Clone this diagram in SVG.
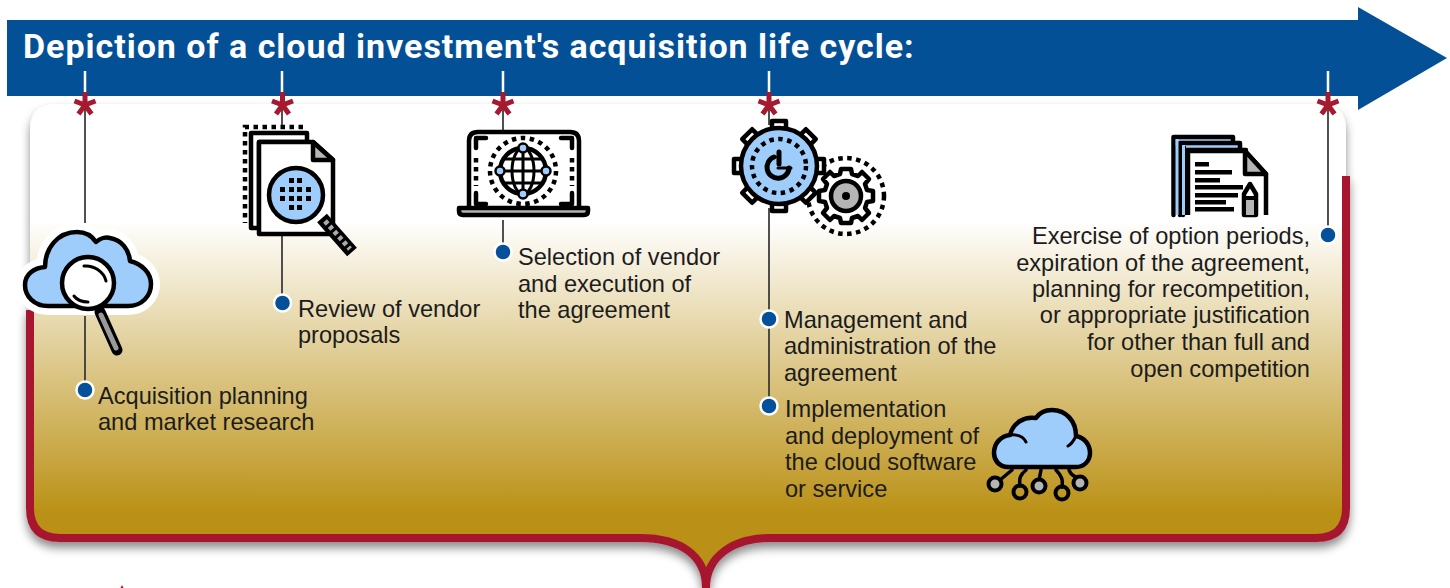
<svg xmlns="http://www.w3.org/2000/svg" xmlns:xlink="http://www.w3.org/1999/xlink" width="1450" height="588" viewBox="0 0 1450 588">
<style>
.t{font-family:"Liberation Sans",Arial,sans-serif;font-size:23.6px;fill:#1c1c1c}
.e{text-anchor:end}
.title{font-family:Roboto,"Liberation Sans",sans-serif;font-weight:700;font-size:34px;letter-spacing:0.98px;fill:#fff}
.tick{stroke:#fff;stroke-width:2.5;fill:none}
.lead{stroke:#333;stroke-width:1.7;fill:none}
.k{stroke:#000;stroke-width:4.5;fill:none;stroke-linejoin:round;stroke-linecap:round}
.kb{stroke:#000;stroke-width:4.5;fill:#9fcdfb;stroke-linejoin:round;stroke-linecap:round}
.kw{stroke:#000;stroke-width:4.5;fill:#fff;stroke-linejoin:round}
.kg{stroke:#000;stroke-width:4.5;fill:#b5b5b5;stroke-linejoin:round}
.dot{stroke:#000;stroke-width:4.5;fill:none;stroke-dasharray:4.500 4.500}
.bar{fill:#000}
.dotm{fill:#04509a;stroke:#fff;stroke-width:2.5}
</style>
<defs>
<linearGradient id="g" x1="0" y1="104" x2="0" y2="588" gradientUnits="userSpaceOnUse">
<stop offset="0" stop-color="#fff"/><stop offset="0.24" stop-color="#fff"/><stop offset="0.85" stop-color="#ba9014"/><stop offset="1" stop-color="#ba9014"/>
</linearGradient>
<filter id="s" x="-5%" y="-5%" width="110%" height="115%"><feDropShadow dx="0" dy="6" stdDeviation="5" flood-color="#000" flood-opacity="0.45"/></filter>
<g id="star" stroke="#a6192e" stroke-width="5" fill="none"><path d="M0,-13V0M0,0L-10.500,-4M0,0L10.500,-4M0,0L-6.500,9M0,0L6.500,9"/></g>
<path id="tooth" class="kw" d="M-7,-37V-45H7V-37Z"/>
</defs>

<g id="panel" filter="url(#s)">
<path fill="url(#g)" d="M30,130Q30,104 56,104H1320Q1346,104 1346,130V508Q1346,538 1316,538H770C735,538 706,555 706,588C706,555 680,538 640,538H60Q30,538 30,508Z"/>
<path fill="none" stroke="#a6192e" stroke-width="8" d="M30,310V508Q30,538 60,538H640C680,538 706,555 706,588C706,555 735,538 770,538H1316Q1346,538 1346,508V176"/>
</g>

<g id="banner">
<path fill="#045096" d="M7,20H1358V7L1447,58L1358,110V96H7Z"/>
<text class="title" x="23" y="58">Depiction of a cloud investment's acquisition life cycle:</text>
</g>

<g id="connectors">
<path class="tick" d="M85,71V95M282,71V95M503,71V95M769,71V95M1328,71V95"/>
<path class="lead" d="M85,105V223M85,316V385M282,105V127M282,236V298M503,105V131M503,220V247M769,105V125M769,208V400M1328,105V230"/>
</g>

<g id="markers">
<use xlink:href="#star" x="85" y="105"/><use xlink:href="#star" x="282.500" y="105"/><use xlink:href="#star" x="503" y="105"/><use xlink:href="#star" x="769" y="105"/><use xlink:href="#star" x="1328" y="105"/>
<path d="M120.500,588L122,585L123.500,588Z" fill="#a6192e"/>
</g>

<g id="node-planning">
<path fill="#fff" stroke="#fff" stroke-width="18" stroke-linejoin="round" d="M48,306C34,306 25,296 25,285C25,274 34,268 45,267C45,248 58,232 77,232C85,232 92,236 96,242C100,238 106,237 110,238C122,240 129,250 130,261C142,264 151,273 151,284C151,296 142,306 128,306Z"/>
<path class="kb" d="M48,306C34,306 25,296 25,285C25,274 34,268 45,267C45,248 58,232 77,232C85,232 92,236 96,242C100,238 106,237 110,238C122,240 129,250 130,261C142,264 151,273 151,284C151,296 142,306 128,306Z"/>
<path d="M100,312L117,350" stroke="#000" stroke-width="11" stroke-linecap="round"/>
<path d="M101,315L116,348" stroke="#9a9a9a" stroke-width="5" stroke-linecap="round"/>
<circle class="kw" cx="88" cy="283" r="26"/>
<path class="k" d="M84,266C94,265 104,272 106,281M74,296C77,300 81,302 88,302" style="stroke-width:3"/>
<circle class="dotm" cx="85" cy="390" r="8.500"/>
<text class="t" x="98" y="404">Acquisition planning</text>
<text class="t" x="98" y="430">and market research</text>
</g>

<g id="node-review">
<path class="dot" d="M303,127H245V223"/>
<path class="kw" d="M251,133H307V142H259V228H251Z"/>
<path class="kw" d="M259,142H313L333,160V234H259Z"/>
<path class="kg" d="M313,142L333,160H313Z"/>
<path d="M322,218L352,252" stroke="#000" stroke-width="13"/>
<path d="M325,221L350,249" stroke="#aaa" stroke-width="5" stroke-dasharray="4 3"/>
<circle class="kb" cx="296" cy="195" r="27"/>
<path class="bar" d="M289,178h5v5h-5zM297,178h5v5h-5zM280,187h5v5h-5zM289,187h5v5h-5zM297,187h5v5h-5zM306,187h5v5h-5zM280,196h5v5h-5zM289,196h5v5h-5zM297,196h5v5h-5zM306,196h5v5h-5zM289,205h5v5h-5zM297,205h5v5h-5z"/>
<circle class="dotm" cx="282.500" cy="303" r="8.500"/>
<text class="t" x="298" y="317">Review of vendor</text>
<text class="t" x="298" y="343">proposals</text>
</g>

<g id="node-selection">
<path class="kw" d="M469,207V141Q469,132 478,132H570Q579,132 579,141V207"/>
<path class="k" d="M486,138H476V148M561,138H572V148M486,204H476V193M561,204H572V193"/>
<path class="dot" d="M476,158V186M572,158V186"/>
<path class="kg" d="M459,208H588V211Q588,215 584,215H463Q459,215 459,211Z"/>
<circle class="dot" cx="523" cy="171" r="33"/>
<circle class="k" cx="523" cy="171" r="23"/>
<ellipse class="k" cx="523" cy="171" rx="11" ry="23" style="stroke-width:3"/>
<path class="k" style="stroke-width:3" d="M523,148V194M500,171H546M504,159H542M504,183H542"/>
<circle class="kb" cx="523" cy="148" r="4.500" style="stroke-width:2.500"/><circle class="kb" cx="523" cy="194" r="4.500" style="stroke-width:2.500"/><circle class="kb" cx="500" cy="171" r="4.500" style="stroke-width:2.500"/><circle class="kb" cx="546" cy="171" r="4.500" style="stroke-width:2.500"/>
<circle class="dotm" cx="503" cy="252" r="8.500"/>
<text class="t" x="518" y="265">Selection of vendor</text>
<text class="t" x="518" y="292">and execution of</text>
<text class="t" x="518" y="318">the agreement</text>
</g>

<g id="node-management">
<g transform="translate(846 196)">
<circle class="dot" r="38"/>
<path class="kw" d="M-5,-27H5L6,-22L12,-20L16,-24L23,-17L19,-12L21,-6L27,-5V5L21,6L19,12L23,17L16,24L12,20L6,22L5,27H-5L-6,22L-12,20L-16,24L-23,17L-19,12L-21,6L-27,5V-5L-21,-6L-19,-12L-23,-17L-16,-24L-12,-20L-6,-22Z"/>
<circle class="kg" r="15"/>
<circle r="4" fill="#000"/>
</g>
<g transform="translate(779 166)">
<use xlink:href="#tooth"/><use xlink:href="#tooth" transform="rotate(45)"/><use xlink:href="#tooth" transform="rotate(90)"/><use xlink:href="#tooth" transform="rotate(135)"/><use xlink:href="#tooth" transform="rotate(180)"/><use xlink:href="#tooth" transform="rotate(225)"/><use xlink:href="#tooth" transform="rotate(270)"/><use xlink:href="#tooth" transform="rotate(315)"/>
<circle class="kb" r="38"/>
<circle class="dot" r="27"/>
<path class="k" style="stroke-width:5" d="M0,-14V-2M10,2A11,11 0 1 1 -5,-9"/>
<path class="k" style="stroke-width:3" d="M-1,2H12"/>
</g>
<circle class="dotm" cx="769" cy="319" r="8.500"/>
<text class="t" x="784" y="328">Management and</text>
<text class="t" x="784" y="354">administration of the</text>
<text class="t" x="784" y="381">agreement</text>
</g>

<g id="node-implementation">
<circle class="dotm" cx="769" cy="406" r="8.500"/>
<text class="t" x="785" y="417">Implementation</text>
<text class="t" x="785" y="444">and deployment of</text>
<text class="t" x="785" y="470">the cloud software</text>
<text class="t" x="785" y="497">or service</text>
<path class="kb" d="M1008,467C999,467 994,460 994,453C994,443 1001,436 1010,435C1013,423 1024,416 1036,418C1040,412 1046,410 1052,410C1066,410 1076,421 1076,436C1085,438 1090,445 1090,453C1090,461 1084,467 1076,467Z"/>
<path class="k" d="M1010,435C1020,434 1024,438 1026,442M1076,436C1074,440 1072,444 1068,446" style="stroke-width:3"/>
<path class="k" d="M1012,470L1000,480M1026,470C1020,475 1019,478 1020,486M1041,470L1039,480M1056,470C1062,476 1063,480 1062,487M1069,470C1071,475 1075,477 1078,478" style="stroke-width:3.500"/>
<circle class="kg" cx="995" cy="484" r="6.500" style="stroke-width:4"/>
<circle cx="1020" cy="492" r="6.500" fill="none" stroke="#000" stroke-width="4"/>
<circle class="kg" cx="1039" cy="486" r="6.500" style="stroke-width:4"/>
<circle cx="1062" cy="493" r="6.500" fill="none" stroke="#000" stroke-width="4"/>
<circle class="kg" cx="1080" cy="483" r="6.500" style="stroke-width:4"/>
</g>

<g id="node-exercise">
<path class="kb" d="M1173.500,215V137H1233V145M1173.500,215"/>
<path class="kb" d="M1180,215V143H1240V150"/>
<path class="kb" d="M1183,215V150H1246"/>
<path fill="#000" d="M1172,146h14v69h-14z"/>
<path fill="#9fcdfb" d="M1175.500,139h3v76h-3zM1182,145h3v70h-3z"/>
<path class="kw" d="M1188,215V151H1245L1266,174V215" style="stroke-linejoin:round"/>
<path class="kg" d="M1245,151L1266,174H1245Z"/>
<path class="bar" d="M1195,162h14v4.500h-14zM1195,170h37v4.500h-37zM1195,178h25v4.500h-25zM1195,185h48v4.500h-48zM1195,193h43v4.500h-43zM1195,200h31v4.500h-31zM1195,207h39v4.500h-39z"/>
<path class="kw" style="stroke-width:4.500" d="M1244,215V194L1250,184L1256,194V215Z"/>
<path fill="#b5b5b5" d="M1246,200h8v15h-8z"/>
<path d="M1243,198H1257" stroke="#000" stroke-width="4"/>
<circle class="dotm" cx="1328" cy="235" r="8.500"/>
<text class="t e" x="1310" y="244">Exercise of option periods,</text>
<text class="t e" x="1310" y="271">expiration of the agreement,</text>
<text class="t e" x="1310" y="297">planning for recompetition,</text>
<text class="t e" x="1310" y="323">or appropriate justification</text>
<text class="t e" x="1310" y="350">for other than full and</text>
<text class="t e" x="1310" y="377">open competition</text>
</g>
</svg>
